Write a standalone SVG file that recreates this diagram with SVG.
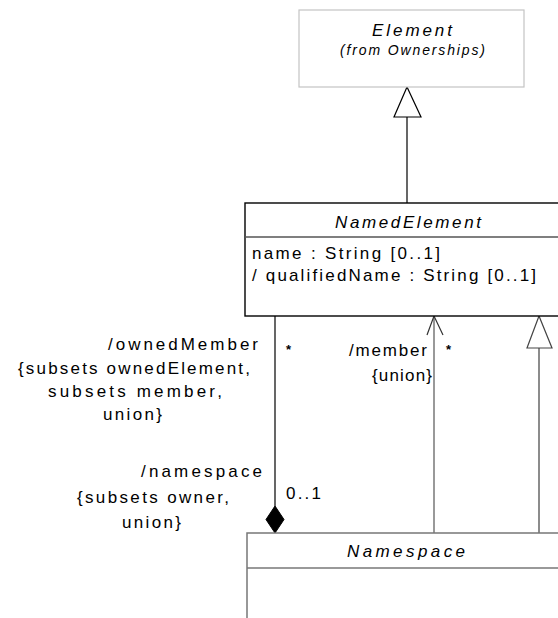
<svg xmlns="http://www.w3.org/2000/svg" width="558" height="618" viewBox="0 0 558 618">
<style>
text{font-family:"Liberation Sans",Arial,sans-serif;fill:#000;font-size:17px}
.it{font-style:italic}
.sm{font-size:14px}
.star{font-size:13px;font-weight:bold}
</style>
<rect width="558" height="618" fill="#fff"/>
<g id="connectors" fill="none">
  <line x1="407" y1="117" x2="407" y2="203" stroke="#000" stroke-width="1.2"/>
  <polygon points="407,87 394,117 421,117" fill="#fff" stroke="#000" stroke-width="1.2"/>
  <line x1="539" y1="348" x2="539" y2="533" stroke="#666" stroke-width="1.5"/>
  <polygon points="539,316 527,348 552,348" fill="#fff" stroke="#444" stroke-width="1.2"/>
  <line x1="434" y1="316" x2="434" y2="533" stroke="#777" stroke-width="1.5"/>
  <polyline points="427,335 434,316 443,335" stroke="#333" stroke-width="1.2"/>
  <line x1="275" y1="316" x2="275" y2="506" stroke="#000" stroke-width="1.2"/>
  <polygon points="275,506 284,519.5 275,533 266,519.5" fill="#000" stroke="#000"/>
</g>
<g id="Element">
  <rect x="299" y="10" width="225" height="77" fill="#fff" stroke="#c4c4c4" stroke-width="1.2"/>
  <text class="it" x="372" y="36" textLength="80" lengthAdjust="spacing" font-size="18">Element</text>
  <text class="it sm" x="340" y="55" textLength="145" lengthAdjust="spacing">(from Ownerships)</text>
</g>
<g id="NamedElement">
  <rect x="245" y="203" width="320" height="113" fill="#fff" stroke="#000" stroke-width="1.4"/>
  <line x1="245" y1="237" x2="565" y2="237" stroke="#555" stroke-width="1.4"/>
  <text class="it" x="335" y="228" textLength="146" lengthAdjust="spacing">NamedElement</text>
  <text x="252" y="259" textLength="188" lengthAdjust="spacing">name : String [0..1]</text>
  <text x="252" y="281" textLength="284" lengthAdjust="spacing">/ qualifiedName : String [0..1]</text>
</g>
<g id="Namespace">
  <rect x="247" y="533" width="320" height="100" fill="#fff" stroke="#777" stroke-width="1.5"/>
  <line x1="247" y1="568" x2="567" y2="568" stroke="#777" stroke-width="1.5"/>
  <text class="it" x="347" y="557" textLength="118" lengthAdjust="spacing">Namespace</text>
</g>
<g id="labels">
  <text x="108" y="350" textLength="150" lengthAdjust="spacing">/ownedMember</text>
  <text x="18" y="374" textLength="232" lengthAdjust="spacing">{subsets ownedElement,</text>
  <text x="48" y="397" textLength="174" lengthAdjust="spacing">subsets member,</text>
  <text x="103" y="420" textLength="59" lengthAdjust="spacing">union}</text>
  <text class="star" x="286" y="354">*</text>
  <text x="141" y="477" textLength="121" lengthAdjust="spacing">/namespace</text>
  <text x="77" y="503" textLength="152" lengthAdjust="spacing">{subsets owner,</text>
  <text x="122" y="528" textLength="59" lengthAdjust="spacing">union}</text>
  <text x="286" y="499" textLength="35" lengthAdjust="spacing">0..1</text>
  <text x="349" y="356" textLength="78" lengthAdjust="spacing">/member</text>
  <text x="372" y="381" textLength="60" lengthAdjust="spacing">{union}</text>
  <text class="star" x="446" y="354">*</text>
</g>
</svg>
